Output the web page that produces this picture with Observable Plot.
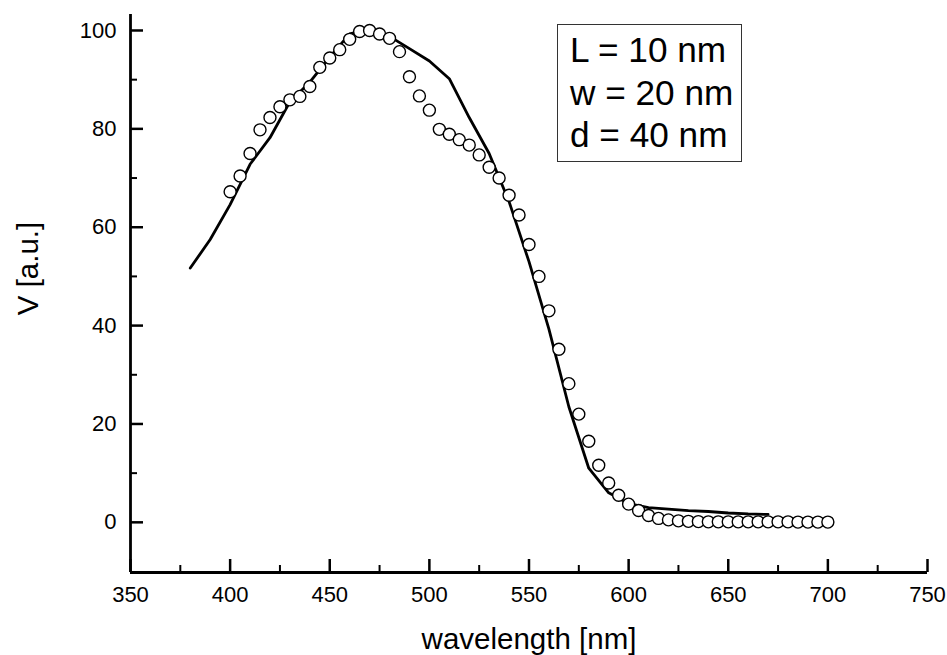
<!DOCTYPE html>
<html>
<head>
<meta charset="utf-8">
<script src="https://cdn.jsdelivr.net/npm/d3@7"></script>
<script src="https://cdn.jsdelivr.net/npm/@observablehq/plot@0.6"></script>
<style>
  html, body { margin: 0; padding: 0; background: #fff; }
  #wrap { position: relative; width: 947px; height: 655px; font-family: "Liberation Sans", Arial, sans-serif; }
  #legend {
    position: absolute; left: 557px; top: 24px; width: 183px; height: 136px;
    border: 1.5px solid #333; box-sizing: content-box; padding: 0;
    font-size: 35.2px; line-height: 42.5px; color: #000;
  }
  #legend div { padding-left: 12px; white-space: nowrap; }
  #legend .first { margin-top: 4px; }
</style>
</head>
<body>
<div id="wrap"></div>
<script>
// Simulation curve (solid line)
const lineWavelength = [380,390,400,410,420,430,440,450,460,470,480,490,500,510,520,530,540,550,560,570,580,590,600,610,620,630,640,650,660,670];
const lineValue      = [51.7,57.5,64.6,72.8,78.2,85.5,89.5,94.6,99.3,100.3,98.8,96.3,93.8,90.2,82.3,75.0,65.2,53.0,39.3,23.5,11.0,6.0,3.8,3.0,2.7,2.4,2.2,1.9,1.7,1.6];

// Measured points (open circles)
const pointWavelength = [400,405,410,415,420,425,430,435,440,445,450,455,460,465,470,475,480,485,490,495,500,505,510,515,520,525,530,535,540,545,550,555,560,565,570,575,580,585,590,595,600,605,610,615,620,625,630,635,640,645,650,655,660,665,670,675,680,685,690,695,700];
const pointValue      = [67.2,70.4,75.0,79.8,82.3,84.5,85.9,86.6,88.6,92.5,94.4,96.1,98.2,99.8,100.0,99.3,98.4,95.7,90.6,86.7,83.8,79.9,78.9,77.8,76.7,74.7,72.2,70.0,66.5,62.5,56.5,50.0,43.0,35.2,28.2,22.0,16.5,11.6,8.0,5.5,3.7,2.4,1.4,0.8,0.5,0.3,0.2,0.15,0.1,0.1,0.1,0.1,0.1,0.1,0.1,0.1,0.1,0.05,0.05,0.05,0.05];

// Axes
const xDomain = [350, 750];
const yDomain = [-10.2, 103.25];
const xMajor = [350,400,450,500,550,600,650,700,750];
const xMinor = [375,425,475,525,575,625,675,725];
const yMajor = [0,20,40,60,80,100];
const yMinor = [10,30,50,70,90];
const xLabel = "wavelength [nm]";
const yLabel = "V [a.u.]";
const legendLines = ["L = 10 nm", "w = 20 nm", "d = 40 nm"];

const lineData = lineWavelength.map((x, i) => ({x, y: lineValue[i]}));
const pointData = pointWavelength.map((x, i) => ({x, y: pointValue[i]}));

const W = 947, H = 655, mL = 130, mR = 20, mT = 14, mB = 83;
const plotW = W - mL - mR, plotH = H - mT - mB;
const font = "'Liberation Sans', Arial, sans-serif";

const chart = Plot.plot({
  width: W, height: H,
  marginLeft: mL, marginRight: mR, marginTop: mT, marginBottom: mB,
  x: {domain: xDomain},
  y: {domain: yDomain},
  style: {fontFamily: font, background: "#fff", color: "#000"},
  marks: [
    Plot.line(lineData, {x: "x", y: "y", stroke: "#000", strokeWidth: 2.8, strokeLinejoin: "round"}),
    Plot.dot(pointData, {x: "x", y: "y", r: 6, stroke: "#000", fill: "#fff", strokeWidth: 1.4}),
    // inward ticks
    Plot.tickY(yMajor, {y: d => d, stroke: "#000", strokeWidth: 2.5, insetRight: plotW - 13}),
    Plot.tickY(yMinor, {y: d => d, stroke: "#000", strokeWidth: 2, insetRight: plotW - 7}),
    Plot.tickX(xMajor, {x: d => d, stroke: "#000", strokeWidth: 2.5, insetTop: plotH - 13}),
    Plot.tickX(xMinor, {x: d => d, stroke: "#000", strokeWidth: 2, insetTop: plotH - 7}),
    // axis lines
    Plot.ruleX([xDomain[0]], {stroke: "#000", strokeWidth: 2.8}),
    Plot.ruleY([yDomain[0]], {stroke: "#000", strokeWidth: 2.8}),
    Plot.axisX(xMajor, {tickSize: 0, tickPadding: 14, fontSize: 22, label: null, tickFormat: d => String(d)}),
    Plot.axisY(yMajor, {tickSize: 0, tickPadding: 14, fontSize: 22, label: null, tickFormat: d => String(d)}),
    Plot.text([xLabel], {frameAnchor: "bottom", text: d => d, textAnchor: "middle", dy: 76, lineAnchor: "bottom", fontSize: 29.5, fill: "#000"}),
    Plot.text([yLabel], {frameAnchor: "left", text: d => d, textAnchor: "middle", dx: -102, dy: -25, rotate: -90, fontSize: 29.5, fill: "#000"})
  ]
});

const wrap = document.getElementById("wrap");
wrap.appendChild(chart);
const legend = document.createElement("div");
legend.id = "legend";
legendLines.forEach((t, i) => {
  const d = document.createElement("div");
  d.textContent = t;
  if (i === 0) d.className = "first";
  legend.appendChild(d);
});
wrap.appendChild(legend);
</script>
</body>
</html>
